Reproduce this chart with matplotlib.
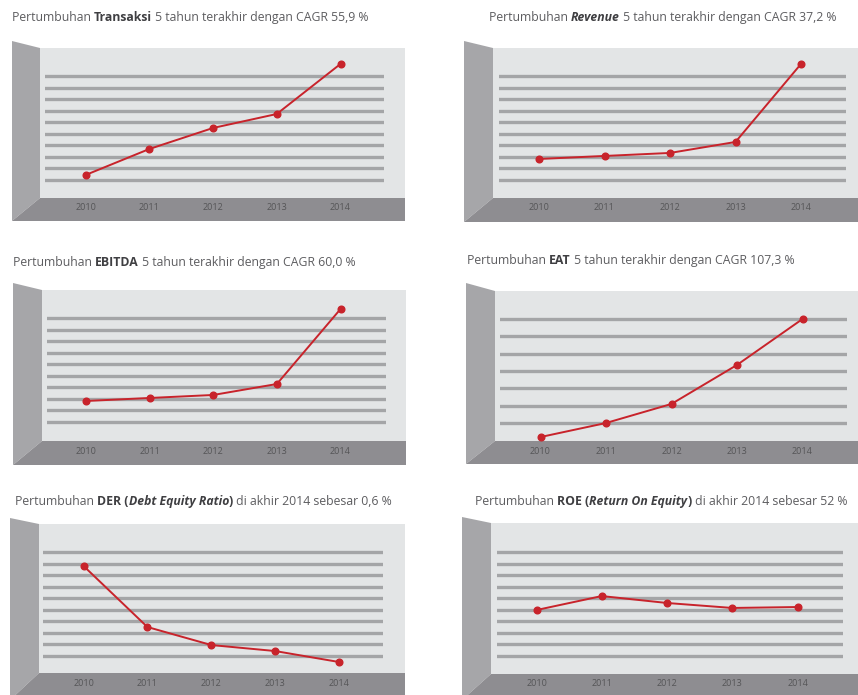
import matplotlib.pyplot as plt
from matplotlib.patches import Polygon
from matplotlib.transforms import blended_transform_factory

plt.rcParams['font.family'] = ['Open Sans', 'DejaVu Sans']

# data (values in grid-line units)
years = [2010, 2011, 2012, 2013, 2014]
transaksi = [0.43, 2.68, 4.50, 5.71, 10.04]
revenue = [1.82, 2.08, 2.34, 3.29, 10.04]
ebitda = [1.82, 2.08, 2.34, 3.29, 9.78]
eat = [-0.81, 0.00, 1.10, 3.35, 6.00]
der = [7.80, 2.51, 0.95, 0.43, -0.52]
roe = [3.98, 5.19, 4.59, 4.16, 4.24]

titles = [
    [("Pertumbuhan ", "normal"), ("Transaksi", "bold"), (" 5 tahun terakhir dengan CAGR 55,9 %", "normal")],
    [("Pertumbuhan ", "normal"), ("Revenue", "bolditalic"), (" 5 tahun terakhir dengan CAGR 37,2 %", "normal")],
    [("Pertumbuhan ", "normal"), ("EBITDA", "bold"), (" 5 tahun terakhir dengan CAGR 60,0 %", "normal")],
    [("Pertumbuhan ", "normal"), ("EAT", "bold"), (" 5 tahun terakhir dengan CAGR 107,3 %", "normal")],
    [("Pertumbuhan ", "normal"), ("DER (", "bold"), ("Debt Equity Ratio", "bolditalic"), (")", "bold"),
     (" di akhir 2014 sebesar 0,6 %", "normal")],
    [("Pertumbuhan ", "normal"), ("ROE (", "bold"), ("Return On Equity", "bolditalic"), (")", "bold"),
     (" di akhir 2014 sebesar 52 %", "normal")],
]
series = [transaksi, revenue, ebitda, eat, der, roe]
n_grid = [10, 10, 10, 7, 10, 10]

# box layout in pixels: x0, x1, x2, y_outer, y_top, y_floor, y_bottom,
# grid x0, grid x1, bottom grid y, grid step, 2010 x, 2014 x, label y, title x, title y
boxes = [
    (12, 40, 405, 41, 48, 198, 221, 45, 384, 180, 11.56, 85.5, 340.5, 208, 12, 17),
    (464, 493, 860, 41, 48, 198, 222, 499, 846, 180, 11.56, 539, 801, 208, 489, 17),
    (13, 42, 406, 283, 290, 441, 465, 47, 386, 422, 11.55, 86, 340.5, 451, 13, 262),
    (466, 495, 860, 283, 291, 441, 464, 500, 847, 423, 17.33, 540.5, 802.5, 451, 467, 260),
    (10, 39, 405, 518, 524, 673, 700, 43, 383, 656, 11.55, 83.5, 339, 684, 15, 501),
    (462, 491, 860, 517, 523, 674, 700, 497, 843, 656, 11.55, 536.5, 797.5, 684, 475, 501),
]

W, H = 858, 695
fig = plt.figure(figsize=(W / 100, H / 100), dpi=100)
bg = fig.add_axes([0, 0, 1, 1])
bg.set_xlim(0, W)
bg.set_ylim(H, 0)
bg.axis('off')

wall_c = '#e3e5e6'
side_c = '#a6a6a9'
floor_c = '#8e8d91'
grid_c = '#a4a5a7'
red = '#c8232b'
txt_c = '#5d5d60'
bold_c = '#3f3f42'

styles = {
    'normal': dict(fontweight='normal', fontstyle='normal', color=txt_c),
    'bold': dict(fontweight='bold', fontstyle='normal', color=bold_c),
    'bolditalic': dict(fontweight='bold', fontstyle='italic', color=bold_c),
}

for k, b in enumerate(boxes):
    x0, x1, x2, yo, yt, yf, yb, gx0, gx1, gyb, sp, xa, xb, ly, tx, ty = b

    # the 3d box
    bg.add_patch(Polygon([(x1, yt), (x2, yt), (x2, yf), (x1, yf)], closed=True, fc=wall_c, ec='none'))
    bg.add_patch(Polygon([(x0, yo), (x1, yt), (x1, yf), (x0, yb)], closed=True, fc=side_c, ec='none'))
    bg.add_patch(Polygon([(x0, yb), (x1, yf), (x2, yf), (x2, yb)], closed=True, fc=floor_c, ec='none'))

    # data axes over the back wall
    ax = fig.add_axes([gx0 / W, 1 - yf / H, (gx1 - gx0) / W, (yf - yt) / H])
    ax.axis('off')
    s = (xb - xa) / 4
    ax.set_xlim(2010 - (xa - gx0) / s, 2014 + (gx1 - xb) / s)
    ax.set_ylim(-(yf - gyb) / sp, (gyb - yt) / sp)
    for i in range(n_grid[k]):
        ax.axhline(i, color=grid_c, lw=2.4, zorder=1)
    ax.plot(years, series[k], color=red, lw=1.4, marker='o', ms=4.8,
            clip_on=False, zorder=3)

    tr = blended_transform_factory(ax.transData, bg.transData)
    for yr in years:
        ax.text(yr, ly, str(yr), transform=tr, ha='center', va='center',
                fontsize=6.5, color='#555557')

    # title made of normal / bold pieces
    prev = None
    for seg, st in titles[k]:
        if prev is None:
            prev = bg.text(tx, ty + 3.8, seg, ha='left', va='baseline', fontsize=8.8, **styles[st])
        else:
            prev = bg.annotate(seg, xy=(1, ty + 3.8), xycoords=(prev, 'data'),
                               ha='left', va='baseline', fontsize=8.8, **styles[st])

fig.savefig('out.png', dpi=100)
